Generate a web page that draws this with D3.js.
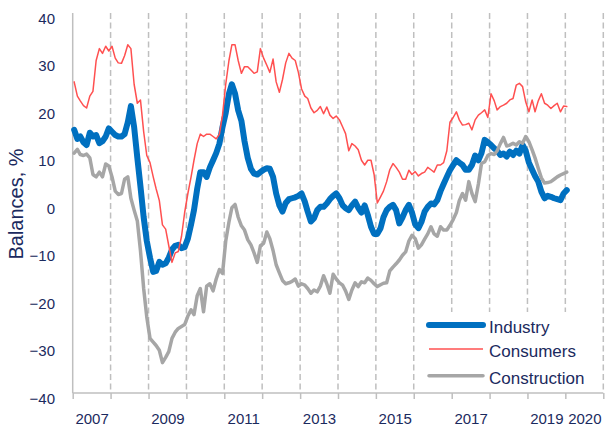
<!DOCTYPE html>

<head>
  <meta charset="utf-8">
  <script src="https://d3js.org/d3.v7.min.js"></script>
  <style>
    body {
      margin: 0;
      background: #fff;
    }

    text {
      font-family: "Liberation Sans", Arial, sans-serif;
      fill: #1b2a5e;
    }

    .tick text {
      font-size: 15px;
      fill: #1b2a5e;
    }

    text.axisTitle {
      font-size: 20px;
    }

    text.legendLabel {
      font-size: 17px;
    }

    path.domain {
      display: none;
    }

    .grid line {
      stroke: #bfbfbf;
      stroke-width: 1.5;
      stroke-dasharray: 6, 3.5;
    }
  </style>
</head>

<body>
  <script>
    // monthly balances, Jan 2007 .. Jan 2020
    const startYear = 2007;

    const industry = [
      15.4, 13.5, 14, 12.8, 12.2, 14.8, 14, 14.3, 12.6, 13, 14, 15.7,
      15, 14.3, 14, 14, 14.5, 17, 20.4, 16, 9.5, 3.5, -3, -8,
      -11.5, -14.5, -14.3, -12.4, -13, -12.7, -11.5, -9.8, -9, -8.8, -9.5, -9.3,
      -7.5, -4.5, -1.5, 3, 6.5, 6.5, 5.5, 7.5, 9, 10.5, 12.5, 16,
      19, 23, 25, 23, 19.5, 17.3, 13, 9.5, 7.2, 6.2, 6, 6.5,
      7, 7.3, 7.2, 5.5, 2, -0.5, -1.8, 0, 0.8, 1, 1.2, 1.5,
      2, 0.3, -1.8, -3.9, -3.2, -1.5, -0.8, -0.8, -0.1, 0.8, 1.5, 2,
      1, -0.5, -1.1, -1.5, -0.5, 0.3, -1, -2, -0.5, -2.5, -5, -6.5,
      -6.5, -5.3, -3, -1.5, -0.8, -0.4, -1.5, -4.3, -3, -1.5, -0.4, -2,
      -4.5, -5.3, -4, -1.8, -0.8, -0.1, -0.3, 0.6, 2.5, 4, 5.5, 6.9,
      8, 9, 8.5, 8, 7, 7, 8, 10, 9, 10.5, 13.3, 12.8,
      12.2, 11.5, 11, 10.1, 10.4, 9.8, 10.8, 10.1, 11, 10.4, 12.2, 11,
      8.5, 7, 5.7, 4.5, 2.4, 1, 1.5, 1.3, 1, 0.8, 0.6, 2,
      2.7
    ];

    const consumers = [
      25.5, 22.5, 21.5, 20.5, 20, 22.5, 23.5, 30, 32.5, 31.5, 33, 32,
      33, 30.5, 29.5, 29.4, 31, 33.3, 32.5, 25, 21, 21.7, 15, 10,
      8.5, 5.5, 3, 0.5, -4.6, -5.5, -9, -12.5, -10.5, -10.2, -7, -2,
      2, 5.5, 9, 12.5, 14.5, 14, 14.5, 14.5, 14, 13.5, 14.5, 18.5,
      25, 30, 33.3, 33.3, 30, 27.3, 28.7, 28.7, 28, 27.3, 27.6, 32.5,
      30.5, 29, 27.5, 30.3, 25.5, 23.3, 26, 29.5, 31.5, 30.5, 30, 27.5,
      24, 22.5, 22, 20, 19, 19.5, 20.3, 18.8, 20.2, 18.5, 17.8, 18.3,
      17.5, 16, 14.6, 11, 12.5, 12, 11.2, 9, 8, 9, 9, 6,
      0, 1.3, 2.5, 4.5, 7, 8.3, 7.5, 6.5, 5, 5, 6.9, 6,
      6.6, 5.7, 6.2, 6.5, 7.5, 7, 6.5, 8, 8, 8.5, 11, 17,
      18, 19.2, 17.5, 16.4, 16.5, 16.8, 15.4, 17.5, 18.5, 19, 19.6, 18,
      23, 21.5, 19.6, 20.3, 20.6, 21, 21.7, 22, 24.8, 25.2, 24.5, 21.3,
      19.2, 21.7, 19.2, 21.5, 23, 21, 20.6, 19.9, 20.5, 21, 19.2, 20.4,
      20.3
    ];

    const construction = [
      10.5, 11.3, 10.2, 10, 10.3, 9.5, 6, 5.5, 6.5, 5.5, 8.2, 7.8,
      5.5, 2.5, 1.8, 2, 5, 5.5, 1, -1.5, -3.8, -10, -18, -24,
      -28.5, -29.3, -30, -31, -33.6, -32.5, -31.3, -28.5, -27.2, -26.4, -26, -25.6,
      -23.8, -22.5, -23.5, -19.5, -18, -22.9, -17.5, -17, -18.5, -16, -14, -14.8,
      -8, -4, -1, -0.3, -3, -4.8, -5.7, -7.7, -8.8, -10.5, -12.5, -9,
      -8.5, -6.1, -7.5, -10, -13, -14.7, -16.3, -17, -16.8, -16.5, -16, -17.5,
      -17, -17.3, -18, -19, -18.3, -18.7, -17.5, -15.3, -17, -19, -15, -16,
      -16.8, -17.3, -18.5, -20.3, -18.3, -16.8, -17.6, -16.6, -16.8, -15.8, -16.3, -17,
      -17.6, -17.2, -16.9, -16.8, -14.3, -13.5, -12.8, -12, -11, -10.3, -8, -6.8,
      -7.5, -9.5, -8.8, -7.6, -6.5, -5, -6.5, -7, -5, -5.7, -5.7, -4.7,
      -3.5, -2, 0.5, 2, 0.6, 4.5, 2, 0.3, 4, 8.3, 8.7, 10,
      10.4, 10.2, 11, 12.5, 13.8, 12, 12.2, 12.6, 12.2, 12.9, 12.6, 14,
      12.9, 11.2, 9.5, 7.3, 5.3, 4.2, 4.3, 4.5, 5, 5.5, 5.9, 6.2,
      6.5
    ];

    const yTicks = [-40, -30, -20, -10, 0, 10, 20, 30, 40];
    const xLabels = [2007, 2009, 2011, 2013, 2015, 2017, 2019, 2020];

    const series = [
      { name: 'Industry', values: industry, colour: '#0070c0', width: 6 },
      { name: 'Consumers', values: consumers, colour: '#ff5050', width: 1.5 },
      { name: 'Construction', values: construction, colour: '#a6a6a6', width: 3.5 }
    ];

    const width = 606;
    const height = 434;
    const margin = { top: 13, right: 2.7, bottom: 41, left: 72.7 };

    const svg = d3.select('body').append('svg')
      .attr('width', width)
      .attr('height', height);

    const x = d3.scaleTime()
      .domain([new Date(startYear, 0, 1), new Date(2021, 0, 1)])
      .range([margin.left, width - margin.right]);

    const y = d3.scaleLinear()
      .domain([-40, 40])
      .range([height - margin.bottom, margin.top]);

    const yearStarts = d3.timeYear.range(new Date(startYear, 0, 1), new Date(2021, 0, 2));

    // dashed year lines
    svg.append('g')
      .attr('class', 'grid')
      .selectAll('line')
      .data(yearStarts.slice(1))
      .enter()
      .append('line')
      .attr('x1', d => x(d))
      .attr('x2', d => x(d))
      .attr('y1', y(40))
      .attr('y2', y(-40));

    // axis lines
    svg.append('line')
      .attr('x1', x.range()[0])
      .attr('x2', x.range()[0])
      .attr('y1', y(40))
      .attr('y2', y(-40))
      .style('stroke', '#bfbfbf')
      .style('stroke-width', 1.5);

    const xTicks = d3.axisBottom(x)
      .tickValues(yearStarts)
      .tickSize(6)
      .tickFormat('');

    svg.append('g')
      .attr('class', 'xTicks')
      .attr('transform', `translate(0, ${y(-40)})`)
      .call(xTicks)
      .selectAll('.tick line')
      .style('stroke', '#bfbfbf')
      .style('stroke-width', 1.5);

    svg.append('line')
      .attr('x1', x.range()[0])
      .attr('x2', x.range()[1])
      .attr('y1', y(-40))
      .attr('y2', y(-40))
      .style('stroke', '#bfbfbf')
      .style('stroke-width', 1.5);

    const xAxis = d3.axisBottom(x)
      .tickValues(xLabels.map(yr => new Date(yr, 6, 2)))
      .tickSize(0)
      .tickFormat(d3.timeFormat('%Y'));

    svg.append('g')
      .attr('class', 'xAxis')
      .attr('transform', `translate(0, ${y(-40)})`)
      .call(xAxis)
      .selectAll('text')
      .attr('y', 31)
      .attr('dy', 0);

    const yAxis = d3.axisLeft(y)
      .tickValues(yTicks)
      .tickSize(0)
      .tickPadding(17.7);

    svg.append('g')
      .attr('class', 'yAxis')
      .attr('transform', `translate(${margin.left}, 0)`)
      .call(yAxis)
      .selectAll('text')
      .attr('dy', '10.3px');

    svg.append('text')
      .attr('class', 'axisTitle')
      .attr('transform', 'translate(23, 204) rotate(-90)')
      .style('text-anchor', 'middle')
      .text('Balances, %');

    // series
    const line = d3.line()
      .x((d, i) => x(new Date(startYear, i, 15)))
      .y(d => y(d));

    svg.selectAll('path.series')
      .data(series)
      .enter()
      .append('path')
      .attr('class', 'series')
      .attr('d', d => line(d.values))
      .style('fill', 'none')
      .style('stroke', d => d.colour)
      .style('stroke-width', d => d.width)
      .style('stroke-linejoin', 'round')
      .style('stroke-linecap', 'round');

    // legend
    const legend = svg.append('g')
      .attr('class', 'legend');

    legend.append('rect')
      .attr('x', 418)
      .attr('y', 312)
      .attr('width', 177)
      .attr('height', 80)
      .style('fill', '#fff');

    const legendRows = [325, 349, 375.7];

    legend.selectAll('line')
      .data(series)
      .enter()
      .append('line')
      .attr('x1', 429)
      .attr('x2', 483)
      .attr('y1', (d, i) => legendRows[i])
      .attr('y2', (d, i) => legendRows[i])
      .style('stroke', d => d.colour)
      .style('stroke-width', d => d.width)
      .style('stroke-linecap', d => d.width === 1.5 ? 'butt' : 'round');

    legend.selectAll('text')
      .data(series)
      .enter()
      .append('text')
      .attr('class', 'legendLabel')
      .attr('x', 489)
      .attr('y', (d, i) => legendRows[i] + 8)
      .text(d => d.name);
  </script>
</body>
